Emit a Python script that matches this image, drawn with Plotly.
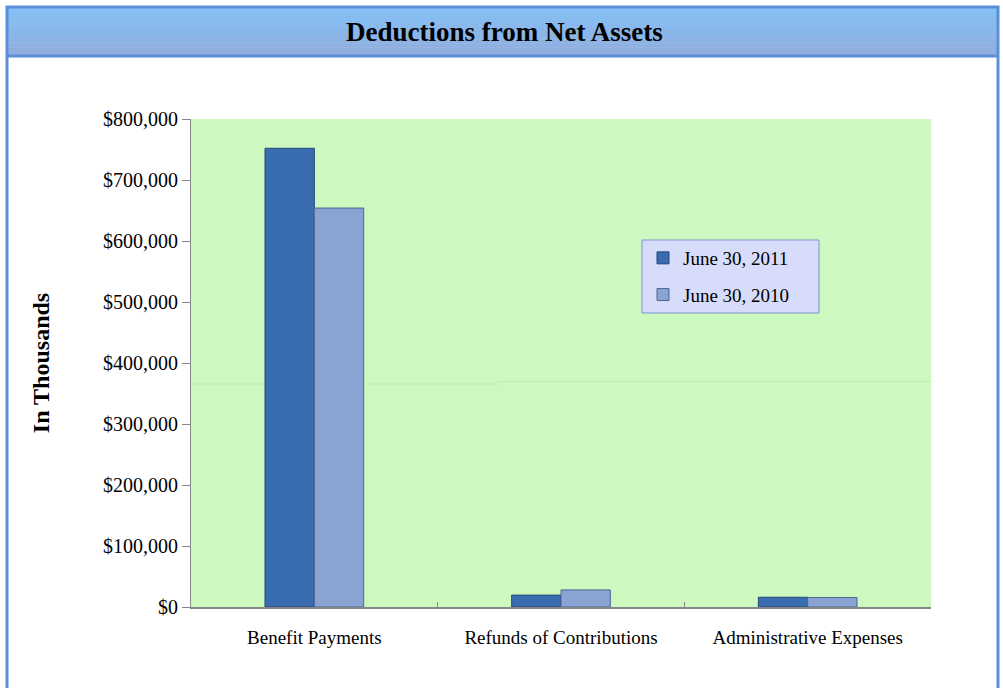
import plotly.graph_objects as go

categories = ["Benefit Payments", "Refunds of Contributions", "Administrative Expenses"]
series_names = ["June 30, 2011", "June 30, 2010"]
values_2011 = [752000, 19500, 16000]
values_2010 = [654000, 28000, 15500]
y_tick_vals = [0, 100000, 200000, 300000, 400000, 500000, 600000, 700000, 800000]
y_tick_text = ["$0", "$100,000", "$200,000", "$300,000", "$400,000",
               "$500,000", "$600,000", "$700,000", "$800,000"]

W, H = 1003, 688
L, R, T, B = 191, 931, 119, 607

def px(x):
    return (x - L) / (R - L)

def py(y):
    return (B - y) / (B - T)

fig = go.Figure()
fig.add_trace(go.Bar(
    x=categories, y=values_2011, name=series_names[0], legendgroup="a",
    marker=dict(color="#3a6db0", line=dict(color="#24487a", width=1)),
))
fig.add_trace(go.Bar(
    x=categories, y=values_2010, name=series_names[1], legendgroup="b",
    marker=dict(color="#8aa3d2", line=dict(color="#4d6591", width=1)),
))

shapes = []
# title band gradient
top_c = (0x86, 0xc0, 0xf6)
bot_c = (0x90, 0xae, 0xde)
n = 12
y0, y1 = 8, 55
for i in range(n):
    t = i / (n - 1)
    c = tuple(int(top_c[k] + (bot_c[k] - top_c[k]) * t) for k in range(3))
    ya = y0 + (y1 - y0) * i / n
    yb = y0 + (y1 - y0) * (i + 1) / n + 0.5
    shapes.append(dict(type="rect", xref="paper", yref="paper",
                       x0=px(8), x1=px(997), y0=py(yb), y1=py(ya),
                       fillcolor="rgb(%d,%d,%d)" % c, line=dict(width=0), layer="below"))
# separator under title band
shapes.append(dict(type="line", xref="paper", yref="paper",
                   x0=px(8), x1=px(997), y0=py(56), y1=py(56),
                   line=dict(color="#5b8fd8", width=3)))
# outer frame
shapes.append(dict(type="rect", xref="paper", yref="paper",
                   x0=px(7), x1=px(998), y0=py(695), y1=py(7),
                   line=dict(color="#5b8fd8", width=3), fillcolor="rgba(0,0,0,0)"))
# faint artifact lines in plot area
shapes.append(dict(type="line", xref="paper", yref="paper",
                   x0=0, x1=px(497), y0=py(384), y1=py(384),
                   line=dict(color="#b4f2a4", width=1), layer="below"))
shapes.append(dict(type="line", xref="paper", yref="paper",
                   x0=px(497), x1=1, y0=py(381.5), y1=py(381.5),
                   line=dict(color="#b4f2a4", width=1), layer="below"))
# legend box
shapes.append(dict(type="rect", xref="paper", yref="paper",
                   x0=px(642), x1=px(819), y0=py(313), y1=py(240),
                   fillcolor="#d6dcfa", line=dict(color="#7f93cf", width=1)))

fig.update_layout(
    width=W, height=H,
    margin=dict(l=L, r=W - R, t=T, b=H - B),
    paper_bgcolor="white",
    plot_bgcolor="#cdf9c1",
    barmode="group",
    bargap=0.6,
    bargroupgap=0,
    font=dict(family="Liberation Serif, Times New Roman, serif", color="#000000", size=17),
    shapes=shapes,
    showlegend=True,
    legend=dict(
        x=px(643), y=py(239), xanchor="left", yanchor="top",
        bgcolor="rgba(0,0,0,0)", borderwidth=0,
        font=dict(size=19, family="Liberation Serif, serif"),
        itemwidth=30, tracegroupgap=9,
    ),
    annotations=[dict(
        text="<b>Deductions from Net Assets</b>", xref="paper", yref="paper",
        x=px(504), y=py(32), xanchor="center", yanchor="middle", showarrow=False,
        font=dict(size=27, family="Liberation Serif, serif", color="#000000"),
    )],
)
fig.update_xaxes(
    showline=True, linecolor="#868686", linewidth=2,
    ticks="inside", tickson="boundaries", ticklen=5, tickcolor="#868686",
    showgrid=False, tickfont=dict(size=19), ticklabelstandoff=12,
)
fig.update_yaxes(
    range=[0, 800000], tickvals=y_tick_vals, ticktext=y_tick_text,
    showline=True, linecolor="#868686", linewidth=1,
    ticks="outside", ticklen=8, tickcolor="#868686",
    showgrid=False, zeroline=False, tickfont=dict(size=20),
    title=dict(text="<b>In Thousands</b>", font=dict(size=24), standoff=46),
)
fig.write_html("out.html", config={"displayModeBar": False},
               post_script="document.body.style.margin='0';")
